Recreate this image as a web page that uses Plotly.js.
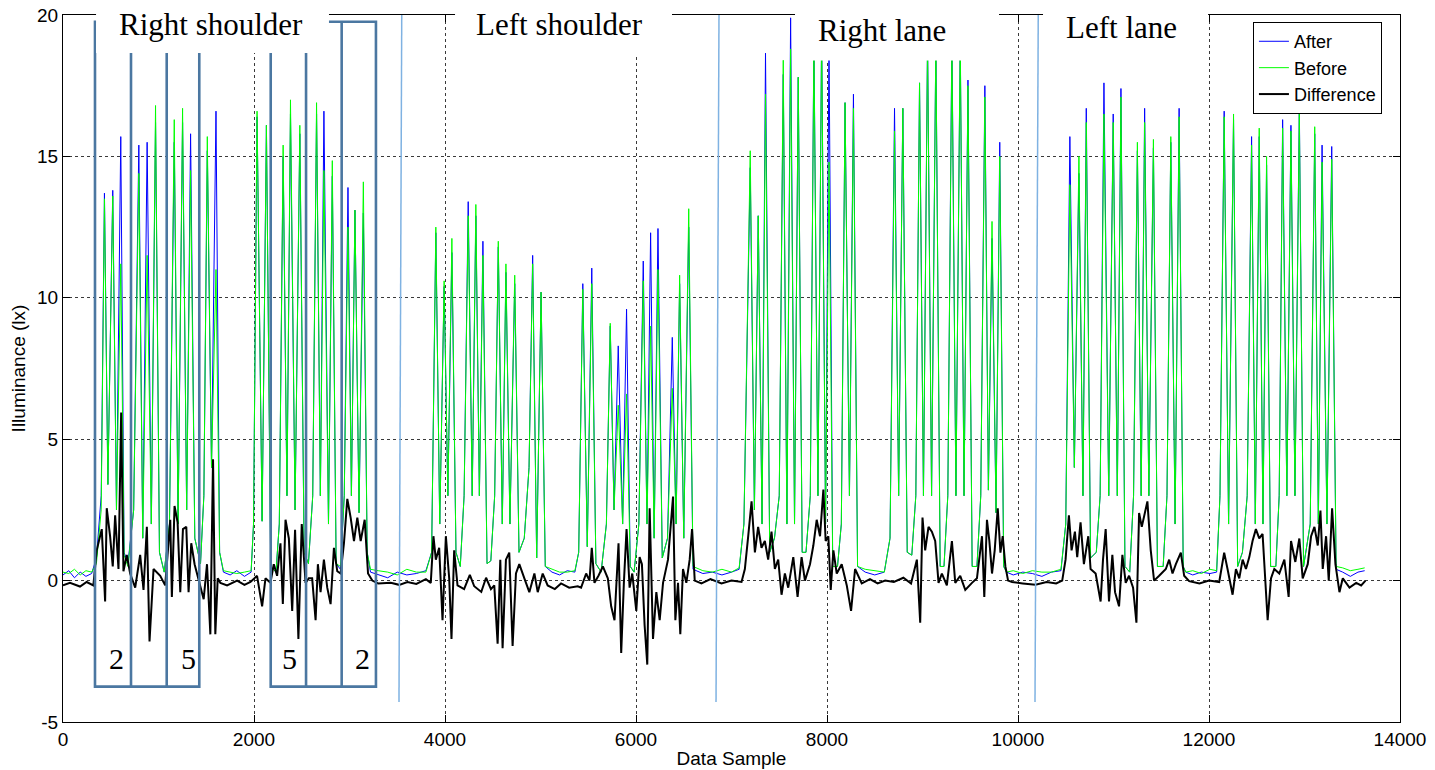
<!DOCTYPE html>
<html>
<head>
<meta charset="utf-8">
<script src="https://cdn.plot.ly/plotly-3.0.1.min.js"></script>
<style>html,body{margin:0;padding:0;background:#fff;}#chart{width:1435px;height:770px;}</style>
</head>
<body>
<div id="chart"></div>
<script>
// ---- Data: rows are [data sample, After (lx), Before (lx)] ----
const lead = [[0,0.2,0.3],[60,0.35,0.25],[120,0.1,0.4],[180,0.3,0.2],[240,0.15,0.35],[300,0.25,0.3]];
const rightShoulder1 = [[350,0.8,0.6],[400,3,2.5],[434,13.7,13.5],[470,3.4,3.4],[521,13.8,13.6],[560,2.5,2.5],[605,15.7,11.2],[640,1.0,0.9],[680,0.6,0.5],[740,2.5,2.5],[794,15.4,14.4],[835,1.5,1.5],[881,15.5,11.5],[925,2,2],[969,16.2,16.8],[1010,1,1],[1060,0.3,0.3],[1115,2,2],[1165,15.5,16.3],[1205,2,2],[1252,16.2,16.7],[1295,2.5,2.5],[1336,15.8,14.5],[1380,1.5,1.5],[1440,0.6,0.6],[1475,3,3],[1511,15.2,15.7],[1555,4,4],[1602,16.6,11],[1640,1,1],[1680,0.3,0.35]];
const gap1 = [[1750,0.2,0.3],[1820,0.35,0.25],[1900,0.15,0.3],[1970,0.3,0.35]];
const rightShoulder2 = [[1995,2,2],[2032,16.4,16.6],[2085,2.1,2.1],[2130,16.1,16.1],[2175,0.5,0.5],[2230,0.3,0.3],[2265,2,2],[2305,15.0,15.4],[2345,3,3],[2382,16.5,17.0],[2430,2.5,2.5],[2480,15.8,16.1],[2525,1,1],[2570,0.6,0.6],[2615,3,3],[2655,16.5,16.9],[2695,3,3],[2732,16.6,14.5],[2780,2,2],[2820,14.3,14.85],[2860,0.6,0.6],[2905,0.4,0.5],[2945,3,3],[2984,13.9,12.5],[3020,3,3],[3057,13.1,13.1],[3100,2.4,2.4],[3145,13.0,14.1],[3185,1,1],[3220,0.3,0.4]];
const gap2 = [[3300,0.2,0.35],[3400,0.1,0.3],[3500,0.3,0.2],[3600,0.2,0.4],[3700,0.25,0.3],[3800,0.35,0.3]];
const leftShoulder = [[3860,1,1],[3904,12.3,12.5],[3945,2,2],[3991,10.4,10.6],[4030,3,3],[4072,11.6,12.1],[4115,1,1],[4160,0.5,0.5],[4200,3,3],[4243,13.4,12.9],[4285,3,3],[4323,12.9,13.3],[4360,3,3],[4397,12.0,11.5],[4440,0.6,0.6],[4480,0.7,0.7],[4520,3,3],[4558,11.8,12.0],[4600,2,2],[4638,10.9,11.2],[4680,2,2],[4730,10.5,10.8],[4775,1,1],[4830,1.5,1.5],[4880,4,4],[4918,11.5,11.2],[4960,0.8,0.8],[5006,10.2,10.2],[5050,0.5,0.5],[5120,0.3,0.4],[5200,0.2,0.3],[5280,0.35,0.3],[5360,0.3,0.35],[5400,1,1],[5443,10.5,10.3],[5490,1.2,1.2],[5537,11.05,10.5],[5580,0.6,0.6],[5635,0.3,0.3],[5690,2,2],[5730,9.0,9.1],[5770,2.5,2.5],[5814,8.3,6.2],[5860,2,2],[5901,9.6,6.6],[5940,0.5,0.5],[5980,0.3,0.3],[6030,2,2],[6076,11.3,10.6],[6115,2,2],[6153,12.3,9],[6190,1.5,1.5],[6230,12.45,11.0],[6275,0.8,0.8],[6330,1.5,1.5],[6380,8.6,6.8],[6420,2,2],[6457,10.5,10.8],[6500,1.5,1.5],[6552,12.5,13.15],[6597,0.4,0.5]];
const gap3 = [[6700,0.25,0.35],[6800,0.3,0.3],[6900,0.2,0.4],[7000,0.3,0.3],[7080,0.4,0.45]];
const rightLane = [[7130,2,2],[7196,14.6,15.2],[7240,2.5,2.5],[7280,12.9,12.9],[7320,2,2],[7356,18.65,17.2],[7400,1,1],[7450,1.5,1.5],[7500,3,3],[7542,17.9,18.4],[7580,2,2],[7619,19.9,18.8],[7660,2,2],[7699,17.8,17.8],[7740,1,1],[7780,1,1],[7825,3,3],[7863,19.2,19.0],[7905,3,3],[7944,19.5,19.3],[7985,2,2],[8021,19.0,14.8],[8060,0.5,0.5],[8110,0.5,0.5],[8150,2,2],[8189,16.9,16.9],[8235,3,3],[8277,17.2,16.7],[8320,0.5,0.5],[8400,0.3,0.4],[8500,0.2,0.35],[8600,0.3,0.3],[8660,1.5,1.5],[8707,16.7,15.9],[8750,3,3],[8794,16.7,16.7],[8840,1,1],[8888,0.9,0.9],[8930,3,3],[8969,17.6,17.6],[9010,3,3],[9053,19.2,19.0],[9095,3,3],[9140,19.0,19.1],[9185,0.5,0.5],[9225,0.5,0.5],[9265,3,3],[9308,19.3,19.0],[9350,3,3],[9395,19.1,19.3],[9435,3,3],[9476,17.7,17.5],[9520,0.5,0.5],[9570,0.5,0.5],[9610,3,3],[9653,17.5,17.1],[9690,3.2,3.2],[9728,12.1,12.7],[9770,2.4,2.4],[9809,15.5,15.0],[9850,0.5,0.5],[9880,0.3,0.3]];
const gap4 = [[9950,0.2,0.35],[10050,0.3,0.25],[10150,0.25,0.35],[10250,0.15,0.3],[10350,0.3,0.3],[10450,0.35,0.4]];
const leftLane = [[10500,2,2],[10543,15.7,14.0],[10590,4,4],[10638,14.4,15.0],[10680,3,3],[10715,16.7,16.2],[10760,0.8,0.8],[10820,1,1],[10860,3,3],[10900,17.6,16.5],[10950,3,3],[10997,16.5,16.2],[11040,3,3],[11078,17.4,17.1],[11120,0.5,0.5],[11170,0.3,0.3],[11210,3,3],[11250,15.2,15.5],[11290,3,3],[11326,16.7,16.2],[11370,3,3],[11418,15.3,15.6],[11460,0.5,0.5],[11520,0.5,0.5],[11560,3,3],[11600,15.5,15.7],[11645,2,2],[11687,16.7,16.4],[11730,0.5,0.5],[11757,0.3,0.3]];
const gap5 = [[11830,0.2,0.35],[11920,0.3,0.25],[12010,0.25,0.4],[12080,0.3,0.35]];
const lastGroup = [[12115,3,3],[12159,16.6,16.4],[12205,2,2],[12257,16.3,16.5],[12300,0.5,0.5],[12350,1,1],[12400,3,3],[12446,15.7,15.4],[12485,2,2],[12526,15.7,16.0],[12565,2,2],[12603,14.7,15.0],[12645,0.5,0.5],[12700,0.5,0.5],[12735,3,3],[12771,16.3,16.0],[12815,3,3],[12858,16.1,15.9],[12900,3,3],[12946,16.7,16.5],[12990,0.5,0.5],[13060,2,2],[13107,15.8,16.05],[13145,2,2],[13184,15.4,14.8],[13235,2,2],[13285,15.35,14.9],[13331,0.4,0.5]];
const tail = [[13400,0.3,0.45],[13480,0.15,0.35],[13560,0.3,0.4],[13630,0.35,0.45]];

// ---- Data: Difference rows are [data sample, difference (lx)] ----
const diffA = [[0,-0.17],[73,-0.08],[178,-0.21],[248,-0.05],[318,-0.17],[353,1.07],[406,1.82],[441,-0.74],[458,2.56],[493,1.57],[521,0.5],[546,2.31],[581,0.41],[609,5.94],[633,0.33],[668,0.91],[703,0.25],[756,-0.25],[808,0.91],[843,-0.33],[878,1.9],[906,-2.15],[948,0.41],[1018,0.17],[1070,-0.17],[1123,2.15],[1140,-0.58],[1168,2.64],[1200,2.06],[1228,-0.41],[1256,1.82],[1291,1.9],[1315,-0.41],[1343,1.32],[1378,0.58],[1420,0],[1473,-0.66],[1508,0.58],[1543,-1.9],[1571,4.29],[1595,-1.9],[1620,0.08],[1648,-0.08],[1718,-0.17],[1823,0],[1900,-0.15],[1963,-0.05]];
const diffB = [[2032,0.17],[2085,-0.91],[2120,0.08],[2172,-0.08],[2207,0.58],[2242,0.17],[2277,1.32],[2302,-0.83],[2330,2.15],[2365,1.49],[2400,-1.07],[2430,1.8],[2465,-2.06],[2500,2.0],[2540,-0.08],[2574,0.08],[2609,0.08],[2645,-1.4],[2669,0.58],[2697,-0.41],[2732,0.74],[2767,-0.25],[2802,-0.83],[2837,1.16],[2872,0.33],[2907,0.25],[2942,1.32],[2977,2.89],[3012,2.23],[3047,1.4],[3082,2.23],[3117,1.4],[3159,2.15],[3194,0.25],[3239,0],[3300,-0.1],[3432,-0.08],[3520,-0.15],[3607,-0.05],[3700,-0.12],[3800,0.05],[3851,-0.08]];
const diffC = [[3879,1.57],[3904,0.74],[3939,1.16],[3974,-1.4],[4009,1.57],[4044,0.08],[4068,-2.06],[4096,1.07],[4131,-0.17],[4200,-0.3],[4260,0.2],[4306,-0.2],[4380,-0.4],[4430,0.1],[4481,-0.3],[4516,-0.17],[4551,-2.23],[4579,0.74],[4603,-2.39],[4638,0.74],[4673,0.99],[4708,-2.31],[4743,0.25],[4778,0.58],[4831,0.08],[4883,-0.41],[4936,0.25],[4971,-0.41],[5023,0.25],[5075,-0.17],[5150,-0.3],[5215,-0.1],[5300,-0.25],[5390,-0.2],[5425,-0.25],[5478,0.25],[5513,0],[5537,1.16],[5565,-0.08],[5607,0.17],[5653,0.5],[5705,0.08],[5740,-0.91],[5775,-1.4],[5817,1.32],[5845,-2.56],[5873,-0.08],[5901,1.82],[5933,-0.25],[5961,0.25],[6003,-1.07],[6038,0.83],[6062,0.58],[6090,-1.57],[6118,-2.97],[6143,2.56],[6178,-2.06],[6213,-0.41],[6248,-1.4],[6283,-0.08],[6335,0.74],[6363,2.06],[6388,2.97],[6412,-1.4],[6440,-0.08],[6464,-1.9],[6492,0.41],[6527,-0.08],[6562,0.74],[6587,1.82],[6615,0],[6685,-0.1],[6780,0.05],[6895,-0.1],[7000,0],[7105,-0.05]];
const diffD = [[7140,0.41],[7175,1.57],[7210,2.8],[7245,1.0],[7279,1.9],[7314,1.16],[7349,1.4],[7384,0.74],[7419,1.73],[7454,0.41],[7489,0.74],[7524,-0.5],[7559,0.25],[7594,-0.25],[7647,0.83],[7692,-0.58],[7734,0.83],[7769,0],[7822,0.58],[7857,1.24],[7892,2.15],[7927,1.57],[7962,3.22],[7986,1.4],[8014,1.57],[8039,-0.33],[8067,1.07],[8102,0.25],[8154,0.58],[8207,-0.17],[8252,-1.07],[8294,0.41],[8364,-0.1],[8450,0.05],[8530,-0.1],[8609,0],[8700,-0.05],[8800,0.1],[8880,-0.1],[8941,0.74],[8976,-1.49],[9000,2.23],[9028,1.07],[9063,1.9],[9098,1.73],[9133,1.4],[9168,-0.08],[9203,0.25],[9255,-0.17],[9308,1.4],[9343,-0.08],[9395,0.17],[9448,-0.33],[9518,-0.08],[9570,0.08],[9623,1.57],[9647,-0.58],[9675,2.15],[9700,1.4],[9728,0.25],[9756,1.07],[9788,2.56],[9816,0.99],[9840,1.57],[9868,0.5],[9896,0],[9938,-0.05],[10050,-0.1],[10183,-0.15],[10300,-0.05],[10400,-0.1],[10463,0]];
const diffE = [[10498,0.74],[10533,2.31],[10561,1.07],[10596,1.73],[10620,0.83],[10655,2.06],[10690,0.58],[10736,1.57],[10760,0.41],[10813,0.25],[10865,-0.74],[10890,0.74],[10918,1.82],[10953,-0.74],[10988,0.91],[11016,-0.41],[11058,-0.91],[11093,0.91],[11128,-0.08],[11163,0.17],[11205,-0.25],[11240,-1.49],[11268,2.39],[11296,1.9],[11320,2.23],[11355,2.8],[11390,1.07],[11425,0],[11478,0.17],[11548,0.41],[11583,0.74],[11618,0.25],[11653,0.58],[11705,0.99],[11740,0.17],[11792,-0.02],[11900,-0.1],[12000,0],[12107,-0.05],[12124,0.25],[12159,0.99],[12194,0.41],[12247,-0.5],[12282,0.41],[12317,0.08],[12352,0.74],[12387,0.41],[12422,0.83],[12456,1.4],[12491,1.82],[12526,1.49],[12561,1.65],[12586,0.08],[12614,-1.4],[12649,0.08],[12684,0.41],[12736,0.25],[12789,0.74],[12834,-0.58],[12859,1.4],[12904,0.66],[12946,1.49],[12981,0.08],[13034,0.58],[13069,1.57],[13104,1.9],[13139,1.24],[13167,2.48],[13191,0.41],[13226,1.57],[13254,0],[13289,2.56],[13324,0.58],[13366,-0.41],[13401,0.08],[13471,-0.25],[13541,-0.08],[13593,-0.17],[13639,0]];

const seriesNames = ['After', 'Before', 'Difference'];
const yTickVals = [-5, 0, 5, 10, 15, 20];
const yTickText = ['-5', '0', '5', '10', '15', '20'];
const xTickVals = [0, 2000, 4000, 6000, 8000, 10000, 12000, 14000];
const sectionLabels = ['Right shoulder', 'Left shoulder', 'Right lane', 'Left lane'];
const boxLabels = ['2', '5', '5', '2'];

// ---- Build ----
const rows = [].concat(lead, rightShoulder1, gap1, rightShoulder2, gap2, leftShoulder, gap3, rightLane, gap4, leftLane, gap5, lastGroup, tail);
const dRows = [].concat(diffA, diffB, diffC, diffD, diffE);

const traces = [
  {x: rows.map(r => r[0]), y: rows.map(r => r[1]), type: 'scatter', mode: 'lines', name: seriesNames[0], line: {color: '#0000FF', width: 1}},
  {x: rows.map(r => r[0]), y: rows.map(r => r[2]), type: 'scatter', mode: 'lines', name: seriesNames[1], line: {color: '#00FF00', width: 1}},
  {x: dRows.map(r => r[0]), y: dRows.map(r => r[1]), type: 'scatter', mode: 'lines', name: seriesNames[2], line: {color: '#000000', width: 2}}
];

const boxColor = '#4B77A1';
const thinBlue = '#7FB2E2';
function vline(x, y0, y1) {
  return {type: 'line', xref: 'x', yref: 'y', x0: x, x1: x, y0: y0, y1: y1, layer: 'above', line: {color: boxColor, width: 2.6}};
}
function slant(xt, xb) {
  return {type: 'line', xref: 'x', yref: 'y', x0: xt, x1: xb, y0: 20, y1: -4.29, layer: 'above', line: {color: thinBlue, width: 1.5}};
}
function whiteBox(x0, x1, ybot) {
  return {type: 'rect', xref: 'x', yref: 'paper', x0: x0, x1: x1, y0: ybot, y1: 1.03, layer: 'above', fillcolor: '#FFFFFF', line: {width: 0}};
}
const shapes = [
  slant(3547, 3518), slant(6869, 6838), slant(10212, 10178),
  {type: 'rect', xref: 'x', yref: 'y', x0: 335, x1: 1427, y0: -3.75, y1: 19.76, layer: 'above', line: {color: boxColor, width: 2.6}},
  vline(712, -3.75, 19.76), vline(1086, -3.75, 19.76),
  {type: 'rect', xref: 'x', yref: 'y', x0: 2175, x1: 3277, y0: -3.75, y1: 19.76, layer: 'above', line: {color: boxColor, width: 2.6}},
  vline(2545, -3.75, 19.76), vline(2918, -3.75, 19.76),
  whiteBox(346, 2785, 0.9463),
  whiteBox(4105, 6377, 0.9434),
  whiteBox(7665, 9801, 0.9355),
  whiteBox(10262, 11990, 0.9434)
];

const serif = 'Liberation Serif, Times New Roman, serif';
function secText(t, x, y) {
  return {text: t, x: x, y: y, xref: 'x', yref: 'paper', xanchor: 'center', yanchor: 'middle', showarrow: false, font: {family: serif, size: 31, color: '#000'}};
}
function boxText(t, x) {
  return {text: t, x: x, y: -2.77, xref: 'x', yref: 'y', xanchor: 'center', yanchor: 'middle', showarrow: false, font: {family: serif, size: 30, color: '#000'}};
}
const annotations = [
  secText(sectionLabels[0], 1548, 0.9859),
  secText(sectionLabels[1], 5204, 0.9859),
  secText(sectionLabels[2], 8573, 0.9781),
  secText(sectionLabels[3], 11079, 0.9830),
  boxText(boxLabels[0], 565), boxText(boxLabels[1], 1317), boxText(boxLabels[2], 2374), boxText(boxLabels[3], 3136)
];

const axisCommon = {
  showline: true, linecolor: '#000', linewidth: 1, mirror: 'ticks',
  ticks: 'inside', ticklen: 7, tickwidth: 1, tickcolor: '#000',
  showgrid: true, gridcolor: '#3a3a3a', griddash: 'dot', gridwidth: 1,
  zeroline: false, tickfont: {size: 19, color: '#000'}
};

const layout = {
  width: 1435, height: 770,
  margin: {l: 63, r: 35, t: 15, b: 48, pad: 0},
  paper_bgcolor: '#fff', plot_bgcolor: '#fff',
  font: {family: 'Liberation Sans, Arial, sans-serif', size: 19, color: '#000'},
  showlegend: true,
  xaxis: Object.assign({}, axisCommon, {range: [0, 14000], tickmode: 'array', tickvals: xTickVals, ticktext: xTickVals.map(String),
    title: {text: 'Data Sample', font: {size: 19}, standoff: 2}}),
  yaxis: Object.assign({}, axisCommon, {range: [-5, 20], tickmode: 'array', tickvals: yTickVals, ticktext: yTickText,
    title: {text: 'Illuminance (lx)', font: {size: 19}, standoff: 6}}),
  legend: {x: 0.890, y: 0.990, xanchor: 'left', yanchor: 'top', bgcolor: '#fff', bordercolor: '#000', borderwidth: 1,
    font: {size: 18, color: '#000'}, tracegroupgap: 0, itemwidth: 30},
  shapes: shapes,
  annotations: annotations
};

Plotly.newPlot('chart', traces, layout, {displayModeBar: false, staticPlot: true});
</script>
</body>
</html>
